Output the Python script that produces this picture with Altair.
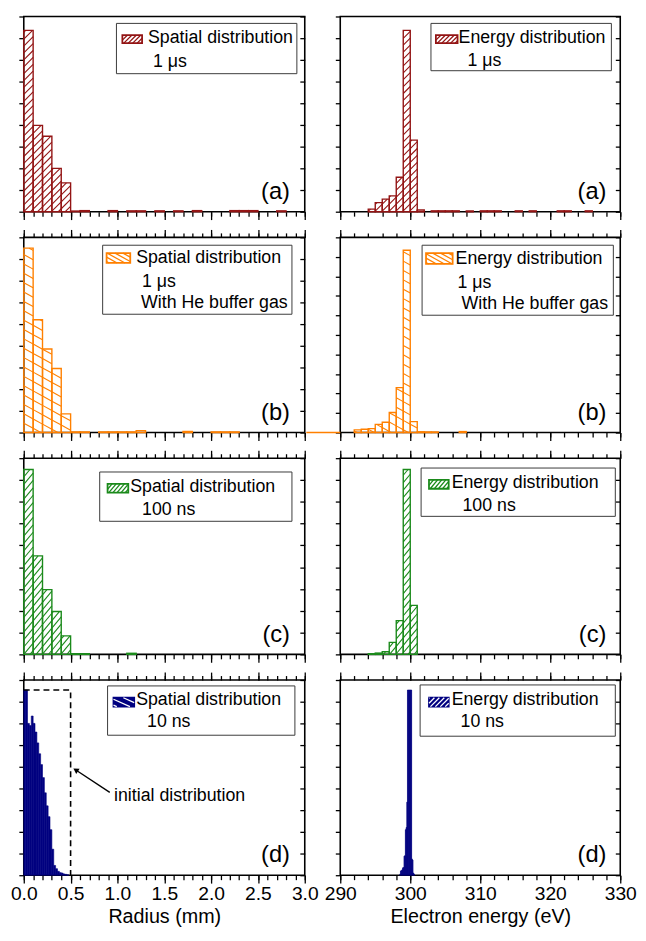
import altair as alt
import numpy as np
import pandas as pd

FONT = "Liberation Sans"

# ---------------- data: bar heights in units of the y-tick spacing ----------------
spatial_a_start  = [0.0, 0.1, 0.2, 0.3, 0.4, 0.5, 0.6, 0.9, 1.1, 1.2, 1.4, 1.6, 1.8, 2.2, 2.3, 2.4, 2.7]
spatial_a_height = [8.36, 3.98, 3.48, 2.00, 1.33, 0.03, 0.05, 0.05, 0.04, 0.04, 0.04, 0.04, 0.05, 0.05, 0.05, 0.05, 0.04]

spatial_b_start  = [0.0, 0.1, 0.2, 0.3, 0.4, 0.5, 0.6, 0.8, 0.9, 1.0, 1.1, 1.2, 1.7, 2.0, 2.1, 2.2]
spatial_b_height = [8.50, 5.20, 3.85, 2.95, 0.86, 0.03, 0.03, 0.03, 0.03, 0.03, 0.03, 0.09, 0.05, 0.03, 0.03, 0.03]

spatial_c_start  = [0.0, 0.1, 0.2, 0.3, 0.4, 0.5, 0.6, 1.1]
spatial_c_height = [8.48, 4.52, 2.97, 1.97, 0.85, 0.03, 0.03, 0.05]

spatial_d_start  = [0.00, 0.02, 0.04, 0.06, 0.08, 0.10, 0.12, 0.14, 0.16, 0.18, 0.20, 0.22,
                    0.24, 0.26, 0.28, 0.30, 0.32, 0.34, 0.36, 0.38, 0.40, 0.42, 0.44, 0.46]
spatial_d_height = [8.54, 8.54, 7.00, 6.90, 7.34, 7.00, 6.60, 6.10, 5.60, 5.10, 4.50, 3.80,
                    3.20, 2.70, 2.10, 1.20, 0.45, 0.30, 0.18, 0.12, 0.10, 0.06, 0.04, 0.02]

energy_a_start  = [294, 295, 296, 297, 298, 299, 300, 301, 303, 304, 305, 306, 308, 310, 311,
                   312, 315, 317, 321, 322, 325]
energy_a_height = [0.12, 0.42, 0.58, 0.73, 1.59, 8.36, 3.30, 0.08, 0.04, 0.04, 0.04, 0.04, 0.04,
                   0.04, 0.04, 0.04, 0.04, 0.04, 0.04, 0.04, 0.04]

energy_b_start  = [292, 293, 294, 295, 296, 297, 298, 299, 300, 301, 302, 303, 307]
energy_b_height = [0.14, 0.17, 0.20, 0.42, 0.53, 1.03, 2.30, 9.34, 0.56, 0.04, 0.03, 0.03, 0.05]

energy_c_start  = [294, 295, 296, 297, 298, 299, 300]
energy_c_height = [0.03, 0.06, 0.12, 0.55, 1.55, 8.48, 2.25]

energy_d_start  = [298.5, 298.6, 298.7, 298.8, 298.9, 299.0, 299.1, 299.2, 299.3, 299.4, 299.5,
                   299.6, 299.7, 299.8, 299.9, 300.0, 300.1, 300.2, 300.3, 300.4, 300.5]
energy_d_height = [0.05, 0.20, 0.22, 0.25, 0.34, 0.36, 0.88, 0.90, 2.10, 2.20, 3.37,
                   8.54, 8.54, 8.54, 8.54, 8.54, 8.54, 0.75, 0.70, 0.10, 0.05]

# initial distribution (panel d, spatial): radius 0..0.5 mm, height of first bin
initial_x = [0.0, 0.5, 0.5]
initial_y = [8.54, 8.54, 0.0]

# ---------------- styling ----------------
RED, ORANGE, GREEN, NAVY = "#931414", "#ff8000", "#1b8a1b", "#000080"
W_L, W_R = 285, 284

SPATIAL = dict(xmin=0.0, xmax=3.0,
               major=[round(0.5 * i, 1) for i in range(7)],
               minor=[round(0.1 * i, 1) for i in range(31)],
               fmt=".1f", title="Radius (mm)")
ENERGY = dict(xmin=290, xmax=330,
              major=list(range(290, 331, 10)),
              minor=list(range(290, 331, 2)),
              fmt="d", title="Electron energy (eV)")


def hatch(rects, m, s, sign, phase=0.0):
    """Diagonal hatch segments inside rectangles (pixel space, y up)."""
    segs = []
    for (a, b, h) in rects:
        if h < 2.5:
            continue
        if sign > 0:
            cmin, cmax = m * a - h, m * b
        else:
            cmin, cmax = m * a, m * b + h
        k0 = int(np.ceil((cmin - phase) / s))
        k1 = int(np.floor((cmax - phase) / s))
        for k in range(k0, k1 + 1):
            c = phase + k * s
            if sign > 0:
                lo, hi = max(a, c / m), min(b, (c + h) / m)
                if hi - lo < 0.3:
                    continue
                segs.append((lo, m * lo - c, hi, m * hi - c))
            else:
                lo, hi = max(a, (c - h) / m), min(b, c / m)
                if hi - lo < 0.3:
                    continue
                segs.append((lo, c - m * lo, hi, c - m * hi))
    return segs


def xaxis(orient, values, size, labels=False, cfg=None):
    kw = dict(orient=orient, values=values, tickSize=size, labels=labels,
              domain=False, grid=False, title=None)
    if labels:
        kw.update(format=cfg["fmt"], labelFontSize=19.5, labelPadding=2, labelFlush=False,
                  labelOverlap=False, title=cfg["title"], titleFontSize=20, titlePadding=3,
                  titleFontWeight="normal")
    return alt.Axis(**kw)


def text_layer(rows, size, align="left"):
    df = pd.DataFrame(rows, columns=["px", "py", "t"])
    return alt.Chart(df).mark_text(align=align, baseline="alphabetic", fontSize=size,
                                   font=FONT, color="black").encode(
        x=alt.X("px:Q", scale=None, axis=None),
        y=alt.Y("py:Q", scale=None, axis=None),
        text="t:N")


def make_panel(cfg, W, H, starts, heights, binw, ymax, color, style, legend, label,
               bottom_row, top_ticks, extras=()):
    xmin, xmax = cfg["xmin"], cfg["xmax"]
    xs = alt.Scale(domain=[xmin, xmax], nice=False, zero=False)
    ys = alt.Scale(domain=[0, ymax], nice=False, zero=True)
    bars = pd.DataFrame({"x0": starts, "h": heights})
    bars["x1"] = bars["x0"] + binw
    bars["z"] = 0.0

    layers = []
    if style["kind"] == "hatch":
        kx = W / (xmax - xmin)
        ky = H / ymax
        rects = [((a - xmin) * kx, (a + binw - xmin) * kx, h * ky) for a, h in zip(starts, heights)]
        segs = hatch(rects, style["m"], style["s"], style["sign"])
        hd = pd.DataFrame(segs, columns=["p0", "q0", "p1", "q1"])
        hd["hx0"] = xmin + hd["p0"] / kx
        hd["hx1"] = xmin + hd["p1"] / kx
        hd["hy0"] = hd["q0"] / ky
        hd["hy1"] = hd["q1"] / ky
        layers.append(alt.Chart(hd).mark_rule(color=color, strokeWidth=1.1).encode(
            x=alt.X("hx0:Q", scale=xs, axis=None), x2="hx1:Q",
            y=alt.Y("hy0:Q", scale=ys, axis=None), y2="hy1:Q"))
        bar_mark = alt.Chart(bars).mark_rect(fillOpacity=0, stroke=color, strokeWidth=1.4)
    else:
        bar_mark = alt.Chart(bars).mark_rect(fill=color, stroke=color, strokeWidth=0.6)

    yticks = list(range(0, int(ymax) + 1))
    layers.append(bar_mark.encode(
        x=alt.X("x0:Q", scale=xs, axis=xaxis("bottom", cfg["major"], 8, bottom_row, cfg)),
        x2="x1:Q",
        y=alt.Y("h:Q", scale=ys, axis=alt.Axis(orient="left", values=yticks, tickSize=5,
                                               labels=False, domain=False, grid=False, title=None)),
        y2="z:Q"))

    carrier = alt.Chart(bars).mark_point(opacity=0, size=1)
    layers.append(carrier.encode(x=alt.X("x0:Q", scale=xs, axis=xaxis("bottom", cfg["minor"], 4.5)),
                                 y=alt.Y("h:Q", scale=ys, axis=None)))
    if top_ticks:
        layers.append(carrier.encode(x=alt.X("x0:Q", scale=xs, axis=xaxis("top", cfg["major"], 8)),
                                     y=alt.Y("h:Q", scale=ys, axis=None)))
        layers.append(carrier.encode(x=alt.X("x0:Q", scale=xs, axis=xaxis("top", cfg["minor"], 4.5)),
                                     y=alt.Y("h:Q", scale=ys, axis=None)))
    layers.append(carrier.encode(
        x=alt.X("x0:Q", scale=xs, axis=None),
        y=alt.Y("h:Q", scale=ys, axis=alt.Axis(orient="left", offset=-W, values=yticks, tickSize=5,
                                               labels=False, domain=False, grid=False, title=None))))

    for ex in extras:
        layers.append(ex(xs, ys))

    bx0, by0, bx1, by1 = legend["box"]
    box = pd.DataFrame({"a": [bx0], "b": [bx1], "c": [by0], "d": [by1]})
    layers.append(alt.Chart(box).mark_rect(fill="white", stroke="#3a3a3a", strokeWidth=1).encode(
        x=alt.X("a:Q", scale=None, axis=None), x2="b:Q",
        y=alt.Y("c:Q", scale=None, axis=None), y2="d:Q"))
    sx0, sy0, sx1, sy1 = legend["sw"]
    sw = pd.DataFrame({"a": [sx0], "b": [sx1], "c": [sy0], "d": [sy1]})
    layers.append(alt.Chart(sw).mark_rect(fill=legend["swfill"], stroke=color, strokeWidth=1.8).encode(
        x=alt.X("a:Q", scale=None, axis=None), x2="b:Q",
        y=alt.Y("c:Q", scale=None, axis=None), y2="d:Q"))
    hm, hs, hsign, hcol = legend["swhatch"]
    ssegs = hatch([(0.0, sx1 - sx0, sy1 - sy0)], hm, hs, hsign, phase=1.5)
    sd = pd.DataFrame([(sx0 + p0, sy1 - q0, sx0 + p1, sy1 - q1) for p0, q0, p1, q1 in ssegs],
                      columns=["a", "c", "b", "d"])
    layers.append(alt.Chart(sd).mark_rule(color=hcol, strokeWidth=1.3).encode(
        x=alt.X("a:Q", scale=None, axis=None), x2="b:Q",
        y=alt.Y("c:Q", scale=None, axis=None), y2="d:Q"))
    layers.append(text_layer(legend["lines"], 18))
    layers.append(text_layer([(270, H - 13, label)], 24, align="right"))

    return alt.layer(*layers).resolve_axis(x="independent", y="independent").properties(width=W, height=H)


def initial_extra(xs, ys):
    d = pd.DataFrame({"x": initial_x, "y": initial_y, "o": [0, 1, 2]})
    dashed = alt.Chart(d).mark_line(color="black", strokeWidth=1.6, strokeDash=[6, 4]).encode(
        x=alt.X("x:Q", scale=xs, axis=None), y=alt.Y("y:Q", scale=ys, axis=None), order="o:Q")
    arrow = pd.DataFrame({"x": [0.918], "x2": [0.56], "y": [3.82], "y2": [4.84]})
    shaft = alt.Chart(arrow).mark_rule(color="black", strokeWidth=1.4).encode(
        x=alt.X("x:Q", scale=xs, axis=None), x2="x2:Q",
        y=alt.Y("y:Q", scale=ys, axis=None), y2="y2:Q")
    head = alt.Chart(pd.DataFrame({"x": [0.562], "y": [4.83]})).mark_point(
        shape="triangle", filled=True, color="black", size=40, angle=303, opacity=1).encode(
        x=alt.X("x:Q", scale=xs, axis=None), y=alt.Y("y:Q", scale=ys, axis=None))
    txt = alt.Chart(pd.DataFrame({"x": [0.964], "y": [3.40], "t": ["initial distribution"]})).mark_text(
        align="left", baseline="alphabetic", fontSize=18, font=FONT, color="black").encode(
        x=alt.X("x:Q", scale=xs, axis=None), y=alt.Y("y:Q", scale=ys, axis=None), text="t:N")
    return alt.layer(dashed, shaft, head, txt)


def orange_stub(xs, ys):
    d = pd.DataFrame({"x": [285.15], "x2": [290.0], "y": [0.0]})
    return alt.Chart(d).mark_rule(color=ORANGE, strokeWidth=1.6).encode(
        x=alt.X("x:Q", scale=xs, axis=None), x2="x2:Q", y=alt.Y("y:Q", scale=ys, axis=None))


MU = "1 \u03bcs"
st_red = dict(kind="hatch", m=1.0, s=7.0, sign=1)
st_orange = dict(kind="hatch", m=0.55, s=9.5, sign=-1)
st_green = dict(kind="hatch", m=1.2, s=7.5, sign=1)
st_navy = dict(kind="solid")

H_A, H_B, H_C, H_D = 198, 198, 199, 198

a_sp = make_panel(SPATIAL, W_L, H_A, spatial_a_start, spatial_a_height, 0.1, 9, RED, st_red,
                  dict(box=(94, 7, 277, 58), sw=(100, 19, 120, 27), swfill="white",
                       swhatch=(1.0, 4.5, 1, RED),
                       lines=[(126, 27, "Spatial distribution"), (131, 51, MU)]),
                  "(a)", False, False)
a_en = make_panel(ENERGY, W_R, H_A, energy_a_start, energy_a_height, 1.0, 9, RED, st_red,
                  dict(box=(92, 7, 275, 55), sw=(97, 19, 119, 27), swfill="white",
                       swhatch=(1.0, 4.5, 1, RED),
                       lines=[(120, 27, "Energy distribution"), (129, 50, MU)]),
                  "(a)", False, False)
b_sp = make_panel(SPATIAL, W_L, H_B, spatial_b_start, spatial_b_height, 0.1, 9, ORANGE, st_orange,
                  dict(box=(80, 8, 272, 78), sw=(84, 16, 108, 26), swfill="white",
                       swhatch=(0.55, 4.4, -1, ORANGE),
                       lines=[(114, 26, "Spatial distribution"), (120, 50, MU),
                              (119, 72, "With He buffer gas")]),
                  "(b)", False, True)
b_en = make_panel(ENERGY, W_R, H_B, energy_b_start, energy_b_height, 1.0, 10, ORANGE, st_orange,
                  dict(box=(83, 8, 277, 79), sw=(87, 16, 114, 27), swfill="white",
                       swhatch=(0.55, 4.4, -1, ORANGE),
                       lines=[(117, 27, "Energy distribution"), (119, 51, MU),
                              (123, 73, "With He buffer gas")]),
                  "(b)", False, True, extras=(orange_stub,))
c_sp = make_panel(SPATIAL, W_L, H_C, spatial_c_start, spatial_c_height, 0.1, 9, GREEN, st_green,
                  dict(box=(77, 14, 272, 64), sw=(85, 26, 106, 35), swfill="white",
                       swhatch=(1.2, 5.0, 1, GREEN),
                       lines=[(108, 34, "Spatial distribution"), (120, 58, "100 ns")]),
                  "(c)", False, True)
c_en = make_panel(ENERGY, W_R, H_C, energy_c_start, energy_c_height, 1.0, 9, GREEN, st_green,
                  dict(box=(82, 10, 279, 59), sw=(90, 22, 110, 31), swfill="white",
                       swhatch=(1.2, 5.0, 1, GREEN),
                       lines=[(113, 30, "Energy distribution"), (124, 54, "100 ns")]),
                  "(c)", False, True)
d_sp = make_panel(SPATIAL, W_L, H_D, spatial_d_start, spatial_d_height, 0.02, 9, NAVY, st_navy,
                  dict(box=(85, 6, 275, 56), sw=(91, 18, 112, 27), swfill=NAVY,
                       swhatch=(0.45, 6.0, -1, "white"),
                       lines=[(114, 25, "Spatial distribution"), (125, 48, "10 ns")]),
                  "(d)", True, True, extras=(initial_extra,))
d_en = make_panel(ENERGY, W_R, H_D, energy_d_start, energy_d_height, 0.1, 9, NAVY, st_navy,
                  dict(box=(81, 5, 279, 57), sw=(90, 18, 110, 27), swfill=NAVY,
                       swhatch=(1.0, 5.0, 1, "white"),
                       lines=[(113, 25, "Energy distribution"), (122, 48, "10 ns")]),
                  "(d)", True, True)

chart = alt.concat(a_sp, a_en, b_sp, b_en, c_sp, c_en, d_sp, d_en, columns=2,
                   spacing={"row": 26, "column": 36}, bounds="flush").properties(
    padding={"left": 1, "top": 0, "right": 0, "bottom": 0}
).configure_view(stroke="black", strokeWidth=1.6).configure_axis(
    tickColor="black", tickWidth=1.3, labelColor="black", titleColor="black",
    labelFont=FONT, titleFont=FONT
).configure_text(font=FONT)

chart.save("out.html", embed_options={"renderer": "svg", "actions": False})
